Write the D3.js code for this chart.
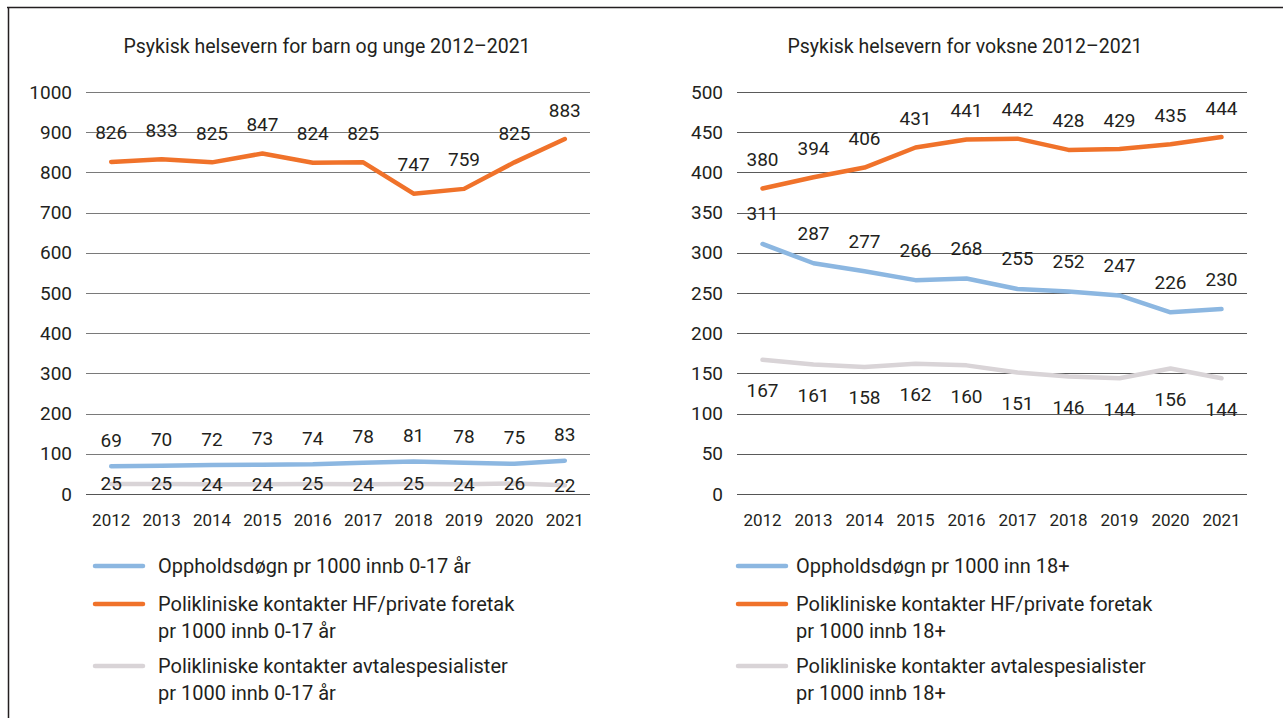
<!DOCTYPE html>
<html>
<head>
<meta charset="utf-8">
<script src="https://cdn.jsdelivr.net/npm/d3@7"></script>
<style>
  body { margin: 0; background: #fff; }
  svg text { font-family: Roboto, "Open Sans", sans-serif; fill: #231f20; }
</style>
</head>
<body>
<div id="chart"></div>
<script>
// Years shared by both panels
const years = ["2012", "2013", "2014", "2015", "2016", "2017", "2018", "2019", "2020", "2021"];

// Barn og unge (0-17 år)
const childStay = [69, 70, 72, 73, 74, 78, 81, 78, 75, 83];
const childHF = [826, 833, 825, 847, 824, 825, 747, 759, 825, 883];
const childSpec = [25, 25, 24, 24, 25, 24, 25, 24, 26, 22];
const childTicks = [0, 100, 200, 300, 400, 500, 600, 700, 800, 900, 1000];

// Voksne (18+)
const adultStay = [311, 287, 277, 266, 268, 255, 252, 247, 226, 230];
const adultHF = [380, 394, 406, 431, 441, 442, 428, 429, 435, 444];
const adultSpec = [167, 161, 158, 162, 160, 151, 146, 144, 156, 144];
const adultTicks = [0, 50, 100, 150, 200, 250, 300, 350, 400, 450, 500];

const colors = { stay: "#8cb7e1", hf: "#f0722a", spec: "#d9d4d7" };

const W = 1283, H = 718;
const svg = d3.select("#chart").append("svg")
    .attr("width", W)
    .attr("height", H);

// frame lines (top and left)
svg.append("line").attr("x1", 7).attr("x2", W).attr("y1", 7.5).attr("y2", 7.5)
    .attr("stroke", "#231f20").attr("stroke-width", 1.5);
svg.append("line").attr("x1", 8.5).attr("x2", 8.5).attr("y1", 7).attr("y2", H)
    .attr("stroke", "#231f20").attr("stroke-width", 1.5);

function drawPanel(opt) {
    const g = svg.append("g");

    const x = d3.scaleBand().domain(years).range([opt.left, opt.right]);
    const y = d3.scaleLinear().domain([0, opt.ticks[opt.ticks.length - 1]]).range([494, 92]);

    g.append("text")
        .attr("x", opt.titleX).attr("y", 46)
        .attr("text-anchor", "middle")
        .attr("dominant-baseline", "central")
        .style("font-size", "19.5px")
        .text(opt.title);

    // gridlines + y labels
    g.selectAll(".grid").data(opt.ticks).enter().append("line")
        .attr("x1", opt.left).attr("x2", opt.right)
        .attr("y1", d => Math.round(y(d)) + 0.5).attr("y2", d => Math.round(y(d)) + 0.5)
        .attr("stroke", d => d === 0 ? "#555" : opt.gridColor)
        .attr("stroke-width", 1);

    g.selectAll(".ylab").data(opt.ticks).enter().append("text")
        .attr("x", opt.left - 14).attr("y", d => y(d))
        .attr("text-anchor", "end")
        .attr("dominant-baseline", "central")
        .style("font-size", "19px")
        .text(d => d);

    g.selectAll(".xlab").data(years).enter().append("text")
        .attr("x", d => x(d) + x.bandwidth() / 2).attr("y", 520)
        .attr("text-anchor", "middle")
        .attr("dominant-baseline", "central")
        .style("font-size", "17px")
        .text(d => d);

    const line = d3.line()
        .x((d, i) => x(years[i]) + x.bandwidth() / 2)
        .y(d => y(d));

    opt.series.forEach(s => {
        g.append("path")
            .datum(s.values)
            .attr("d", line)
            .attr("fill", "none")
            .attr("stroke", s.color)
            .attr("stroke-width", 4.5)
            .attr("stroke-linejoin", "round")
            .attr("stroke-linecap", "round");
    });

    opt.series.forEach(s => {
        g.selectAll(null).data(s.values).enter().append("text")
            .attr("x", (d, i) => x(years[i]) + x.bandwidth() / 2)
            .attr("y", d => y(d) + s.labelOffset)
            .attr("text-anchor", "middle")
            .attr("dominant-baseline", "central")
            .style("font-size", "19px")
            .text(d => d);
    });

    // legend
    const lg = g.append("g");
    opt.legend.forEach(item => {
        lg.append("line")
            .attr("x1", opt.legendX).attr("x2", opt.legendX + 48)
            .attr("y1", item.y).attr("y2", item.y)
            .attr("stroke", item.color)
            .attr("stroke-width", 4.5)
            .attr("stroke-linecap", "round");
        item.lines.forEach((t, k) => {
            lg.append("text")
                .attr("x", opt.legendX + opt.textOffset).attr("y", item.y + k * 27)
                .attr("dominant-baseline", "central")
                .style("font-size", "20px")
                .text(t);
        });
    });
}

drawPanel({
    title: "Psykisk helsevern for barn og unge 2012\u20132021",
    titleX: 327,
    left: 86, right: 590,
    ticks: childTicks,
    gridColor: "#7a7a7a",
    series: [
        { values: childSpec, color: colors.spec, labelOffset: 0 },
        { values: childStay, color: colors.stay, labelOffset: -26 },
        { values: childHF, color: colors.hf, labelOffset: -29 }
    ],
    legendX: 95,
    textOffset: 63,
    legend: [
        { color: colors.stay, y: 566, lines: ["Oppholdsd\u00f8gn pr 1000 innb 0-17 \u00e5r"] },
        { color: colors.hf, y: 604, lines: ["Polikliniske kontakter HF/private foretak", "pr 1000 innb 0-17 \u00e5r"] },
        { color: colors.spec, y: 666, lines: ["Polikliniske kontakter avtalespesialister", "pr 1000 innb 0-17 \u00e5r"] }
    ]
});

drawPanel({
    title: "Psykisk helsevern for voksne 2012\u20132021",
    titleX: 965,
    left: 737, right: 1247,
    ticks: adultTicks,
    gridColor: "#5a5a5a",
    series: [
        { values: adultSpec, color: colors.spec, labelOffset: 31 },
        { values: adultStay, color: colors.stay, labelOffset: -30 },
        { values: adultHF, color: colors.hf, labelOffset: -29 }
    ],
    legendX: 738,
    textOffset: 58,
    legend: [
        { color: colors.stay, y: 566, lines: ["Oppholdsd\u00f8gn pr 1000 inn 18+"] },
        { color: colors.hf, y: 604, lines: ["Polikliniske kontakter HF/private foretak", "pr 1000 innb 18+"] },
        { color: colors.spec, y: 666, lines: ["Polikliniske kontakter avtalespesialister", "pr 1000 innb 18+"] }
    ]
});
</script>
</body>
</html>
